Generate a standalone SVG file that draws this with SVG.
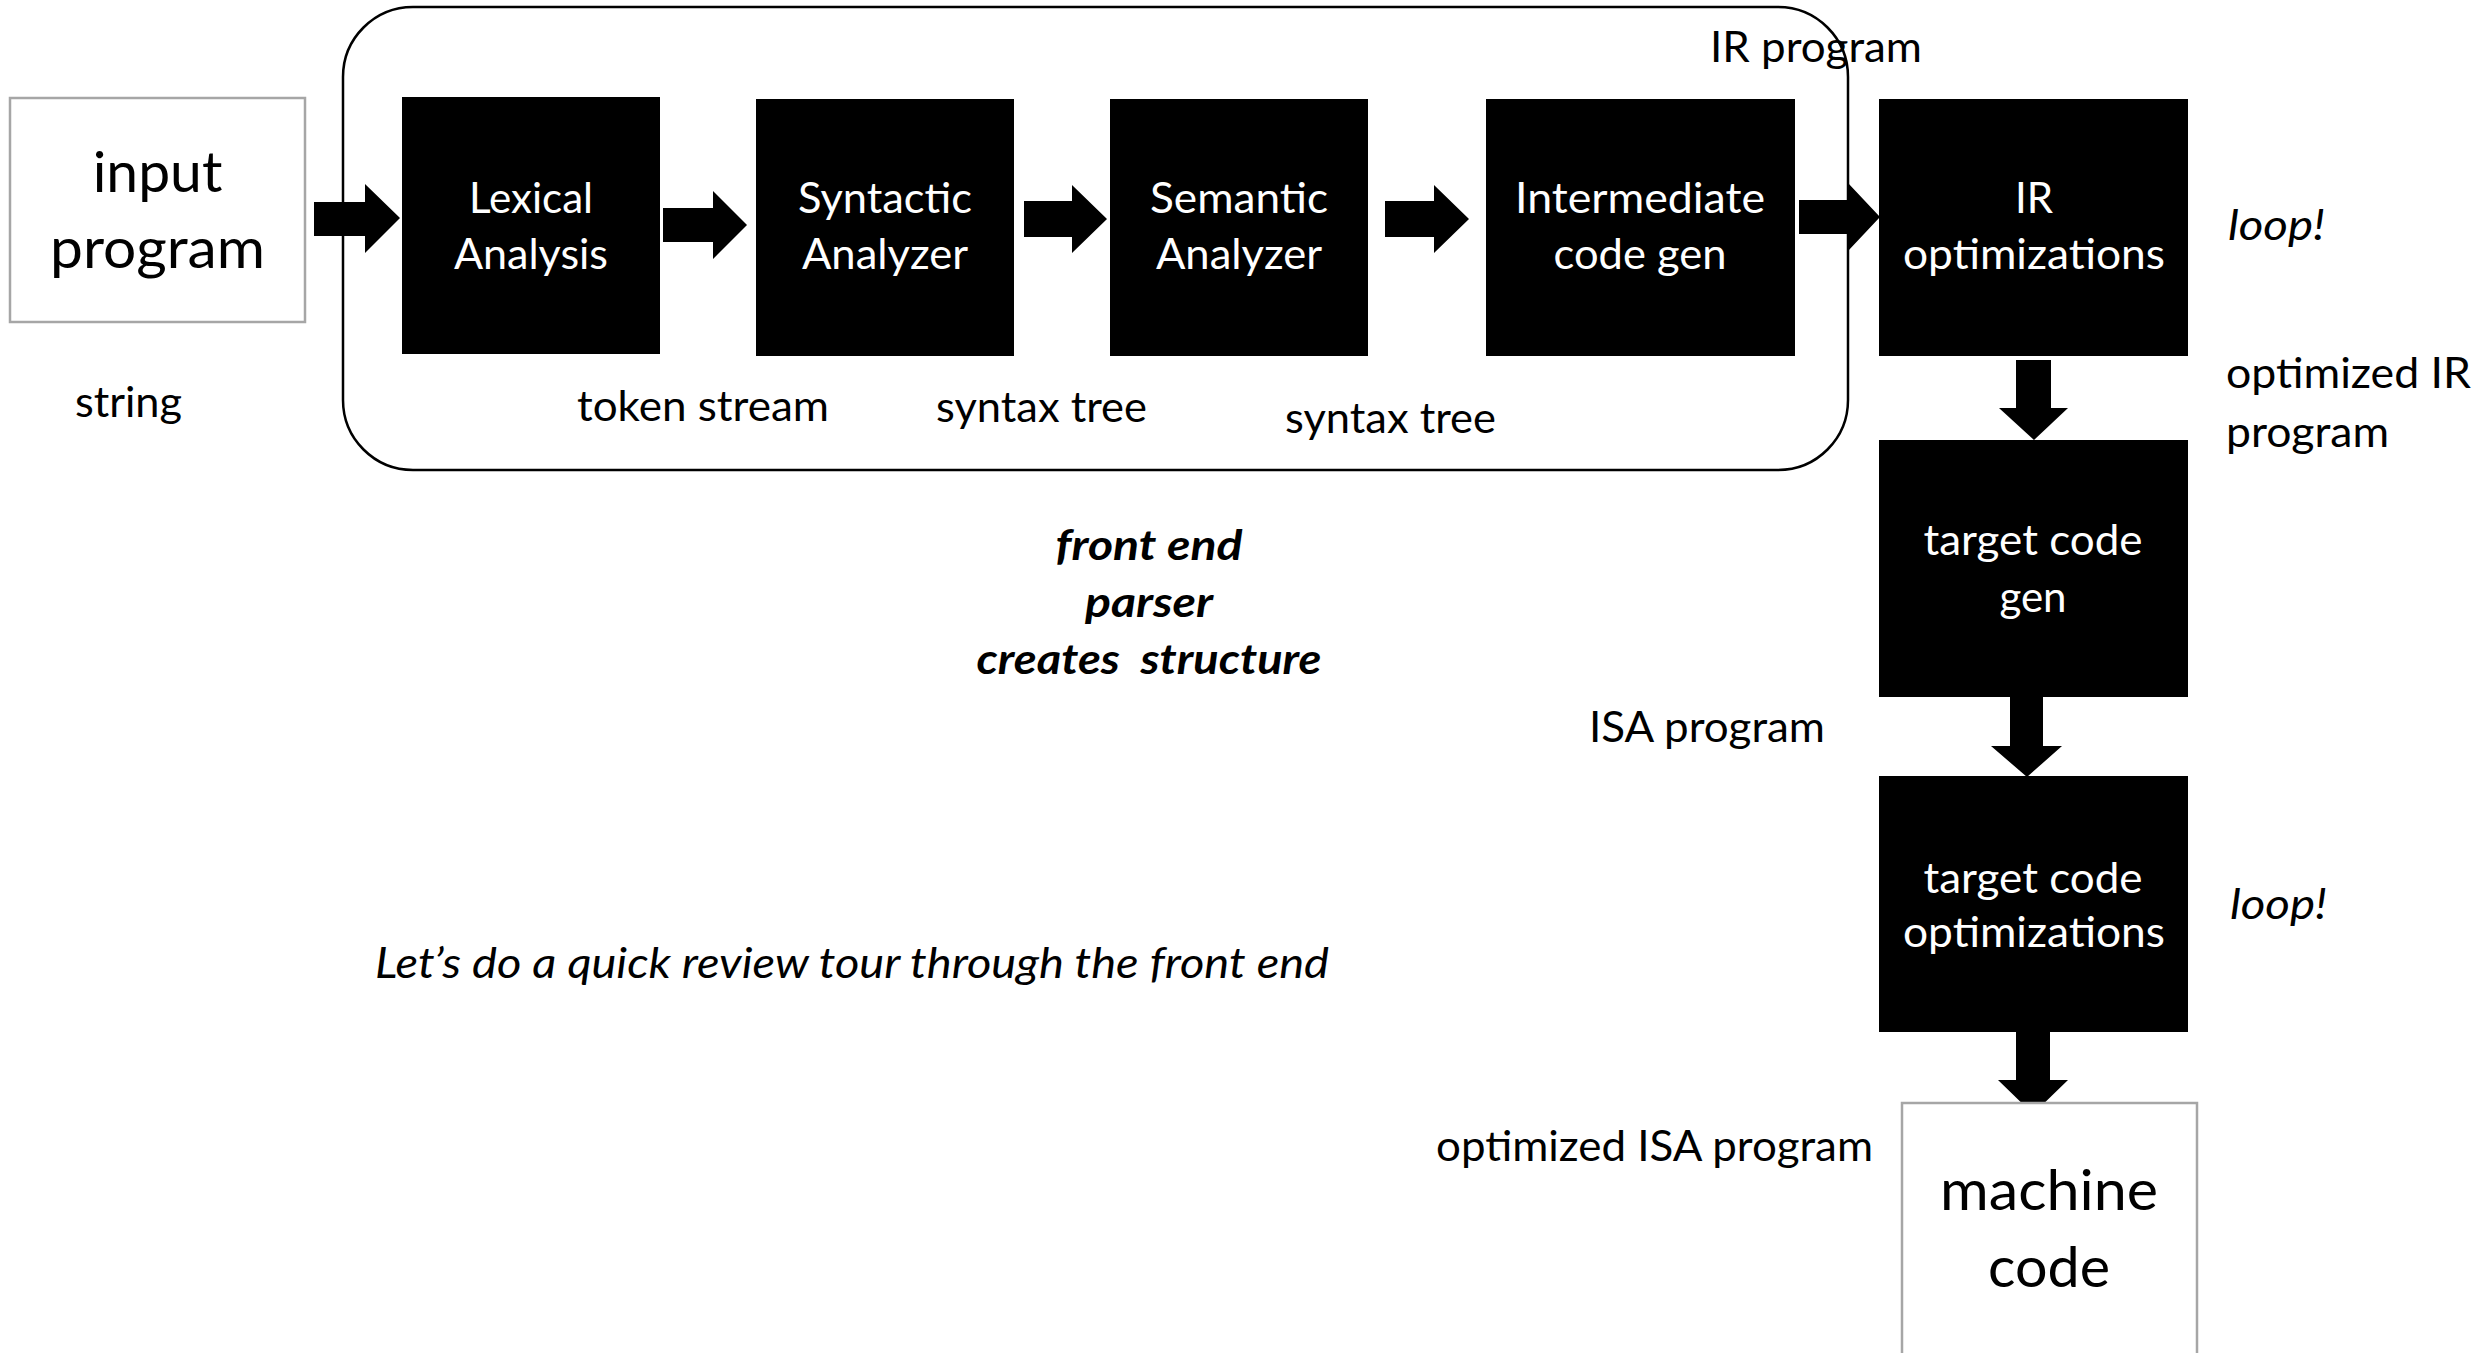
<svg xmlns="http://www.w3.org/2000/svg" width="2475" height="1353" viewBox="0 0 2475 1353">
  <style>
    text { font-family: Lato, "Open Sans", "Liberation Sans", sans-serif; fill: #000; }
    .stage { fill: #000; }
    .stage-label { fill: #fff; font-size: 42px; text-anchor: middle; }
    .io { fill: #fff; stroke: #a6a6a6; stroke-width: 2.5; }
    .io-label { font-size: 57px; text-anchor: middle; }
    .note { font-size: 42px; }
    .loop { font-size: 42px; font-style: italic; }
    .frame { fill: none; stroke: #000; stroke-width: 2.5; }
    .caption { font-size: 42px; font-style: italic; font-weight: bold; text-anchor: middle; }
    .arrow { fill: #000; }
  </style>

  <rect width="2475" height="1353" fill="#fff"/>

  <!-- front-end frame -->
  <rect id="front-end-frame" class="frame" x="343" y="7" width="1505" height="463" rx="70" ry="70"/>

  <!-- block arrows between stages -->
  <g id="connectors">
    <path class="arrow" d="M314,202 H365 V184 L400,218 L365,253 V236 H314 Z"/>
    <path class="arrow" d="M663,208 H713 V191 L747,225 L713,259 V242 H663 Z"/>
    <path class="arrow" d="M1024,201 H1072 V185 L1107,219 L1072,253 V237 H1024 Z"/>
    <path class="arrow" d="M1385,201 H1434 V185 L1469,219 L1434,253 V237 H1385 Z"/>
    <path class="arrow" d="M1799,200 H1848 V183 L1880,217 L1848,251 V234 H1799 Z"/>
    <path class="arrow" d="M2016,360 V408 H1999 L2034,440 L2068,408 H2051 V360 Z"/>
    <path class="arrow" d="M2010,696 V746 H1991 L2027,777 L2062,746 H2043 V696 Z"/>
    <path class="arrow" d="M2016,1032 V1080 H1998 L2033,1114 L2068,1080 H2050 V1032 Z"/>
  </g>

  <g id="input-program">
    <rect class="io" x="10" y="98" width="295" height="224"/>
    <text class="io-label" x="157.5" y="192">input</text>
    <text class="io-label" x="157.5" y="268" textLength="215" lengthAdjust="spacingAndGlyphs">program</text>
  </g>

  <g id="lexical-analysis">
    <rect class="stage" x="402" y="97" width="258" height="257"/>
    <text class="stage-label" x="531" y="213" textLength="124" lengthAdjust="spacingAndGlyphs">Lexical</text>
    <text class="stage-label" x="531" y="269" textLength="154" lengthAdjust="spacingAndGlyphs">Analysis</text>
  </g>

  <g id="syntactic-analyzer">
    <rect class="stage" x="756" y="99" width="258" height="257"/>
    <text class="stage-label" x="885" y="213" textLength="174" lengthAdjust="spacingAndGlyphs">Syntactic</text>
    <text class="stage-label" x="885" y="269" textLength="166" lengthAdjust="spacingAndGlyphs">Analyzer</text>
  </g>

  <g id="semantic-analyzer">
    <rect class="stage" x="1110" y="99" width="258" height="257"/>
    <text class="stage-label" x="1239" y="213" textLength="178" lengthAdjust="spacingAndGlyphs">Semantic</text>
    <text class="stage-label" x="1239" y="269" textLength="166" lengthAdjust="spacingAndGlyphs">Analyzer</text>
  </g>

  <g id="intermediate-code-gen">
    <rect class="stage" x="1486" y="99" width="309" height="257"/>
    <text class="stage-label" x="1640" y="213" textLength="250" lengthAdjust="spacingAndGlyphs">Intermediate</text>
    <text class="stage-label" x="1640" y="269" textLength="173" lengthAdjust="spacingAndGlyphs">code gen</text>
  </g>

  <g id="ir-optimizations">
    <rect class="stage" x="1879" y="99" width="309" height="257"/>
    <text class="stage-label" x="2034" y="213">IR</text>
    <text class="stage-label" x="2034" y="269" textLength="262" lengthAdjust="spacingAndGlyphs">optimizations</text>
  </g>

  <g id="target-code-gen">
    <rect class="stage" x="1879" y="440" width="309" height="257"/>
    <text class="stage-label" x="2033" y="555" textLength="219" lengthAdjust="spacingAndGlyphs">target code</text>
    <text class="stage-label" x="2033" y="612">gen</text>
  </g>

  <g id="target-code-optimizations">
    <rect class="stage" x="1879" y="776" width="309" height="256"/>
    <text class="stage-label" x="2033" y="893" textLength="219" lengthAdjust="spacingAndGlyphs">target code</text>
    <text class="stage-label" x="2034" y="947" textLength="262" lengthAdjust="spacingAndGlyphs">optimizations</text>
  </g>

  <g id="machine-code">
    <rect class="io" x="1902" y="1103" width="295" height="300"/>
    <text class="io-label" x="2049" y="1210" textLength="218" lengthAdjust="spacingAndGlyphs">machine</text>
    <text class="io-label" x="2049" y="1287" textLength="122" lengthAdjust="spacingAndGlyphs">code</text>
  </g>

  <!-- data labels along the pipeline -->
  <g id="labels">
    <text class="note" x="75" y="417" textLength="107" lengthAdjust="spacingAndGlyphs">string</text>
    <text class="note" x="577" y="421" textLength="252" lengthAdjust="spacingAndGlyphs">token stream</text>
    <text class="note" x="936" y="422" textLength="211" lengthAdjust="spacingAndGlyphs">syntax tree</text>
    <text class="note" x="1285" y="433" textLength="211" lengthAdjust="spacingAndGlyphs">syntax tree</text>
    <text class="note" x="1710" y="62" textLength="212" lengthAdjust="spacingAndGlyphs">IR program</text>
    <text class="loop" x="2228" y="240" textLength="97" lengthAdjust="spacingAndGlyphs">loop!</text>
    <text class="note" x="2226" y="388" textLength="245" lengthAdjust="spacingAndGlyphs">optimized IR</text>
    <text class="note" x="2226" y="447" textLength="163" lengthAdjust="spacingAndGlyphs">program</text>
    <text class="note" x="1589" y="742" textLength="236" lengthAdjust="spacingAndGlyphs">ISA program</text>
    <text class="loop" x="2230" y="919" textLength="97" lengthAdjust="spacingAndGlyphs">loop!</text>
    <text class="note" x="1436" y="1161" textLength="437" lengthAdjust="spacingAndGlyphs">optimized ISA program</text>
  </g>

  <g id="front-end-caption">
    <text class="caption" x="1149" y="560" textLength="187" lengthAdjust="spacingAndGlyphs">front end</text>
    <text class="caption" x="1149" y="617" textLength="128" lengthAdjust="spacingAndGlyphs">parser</text>
    <text class="caption" x="1149" y="674" textLength="345" lengthAdjust="spacingAndGlyphs" xml:space="preserve">creates  structure</text>
  </g>

  <text id="review-note" class="loop" x="375" y="978" textLength="954" lengthAdjust="spacingAndGlyphs">Let’s do a quick review tour through the front end</text>
</svg>
